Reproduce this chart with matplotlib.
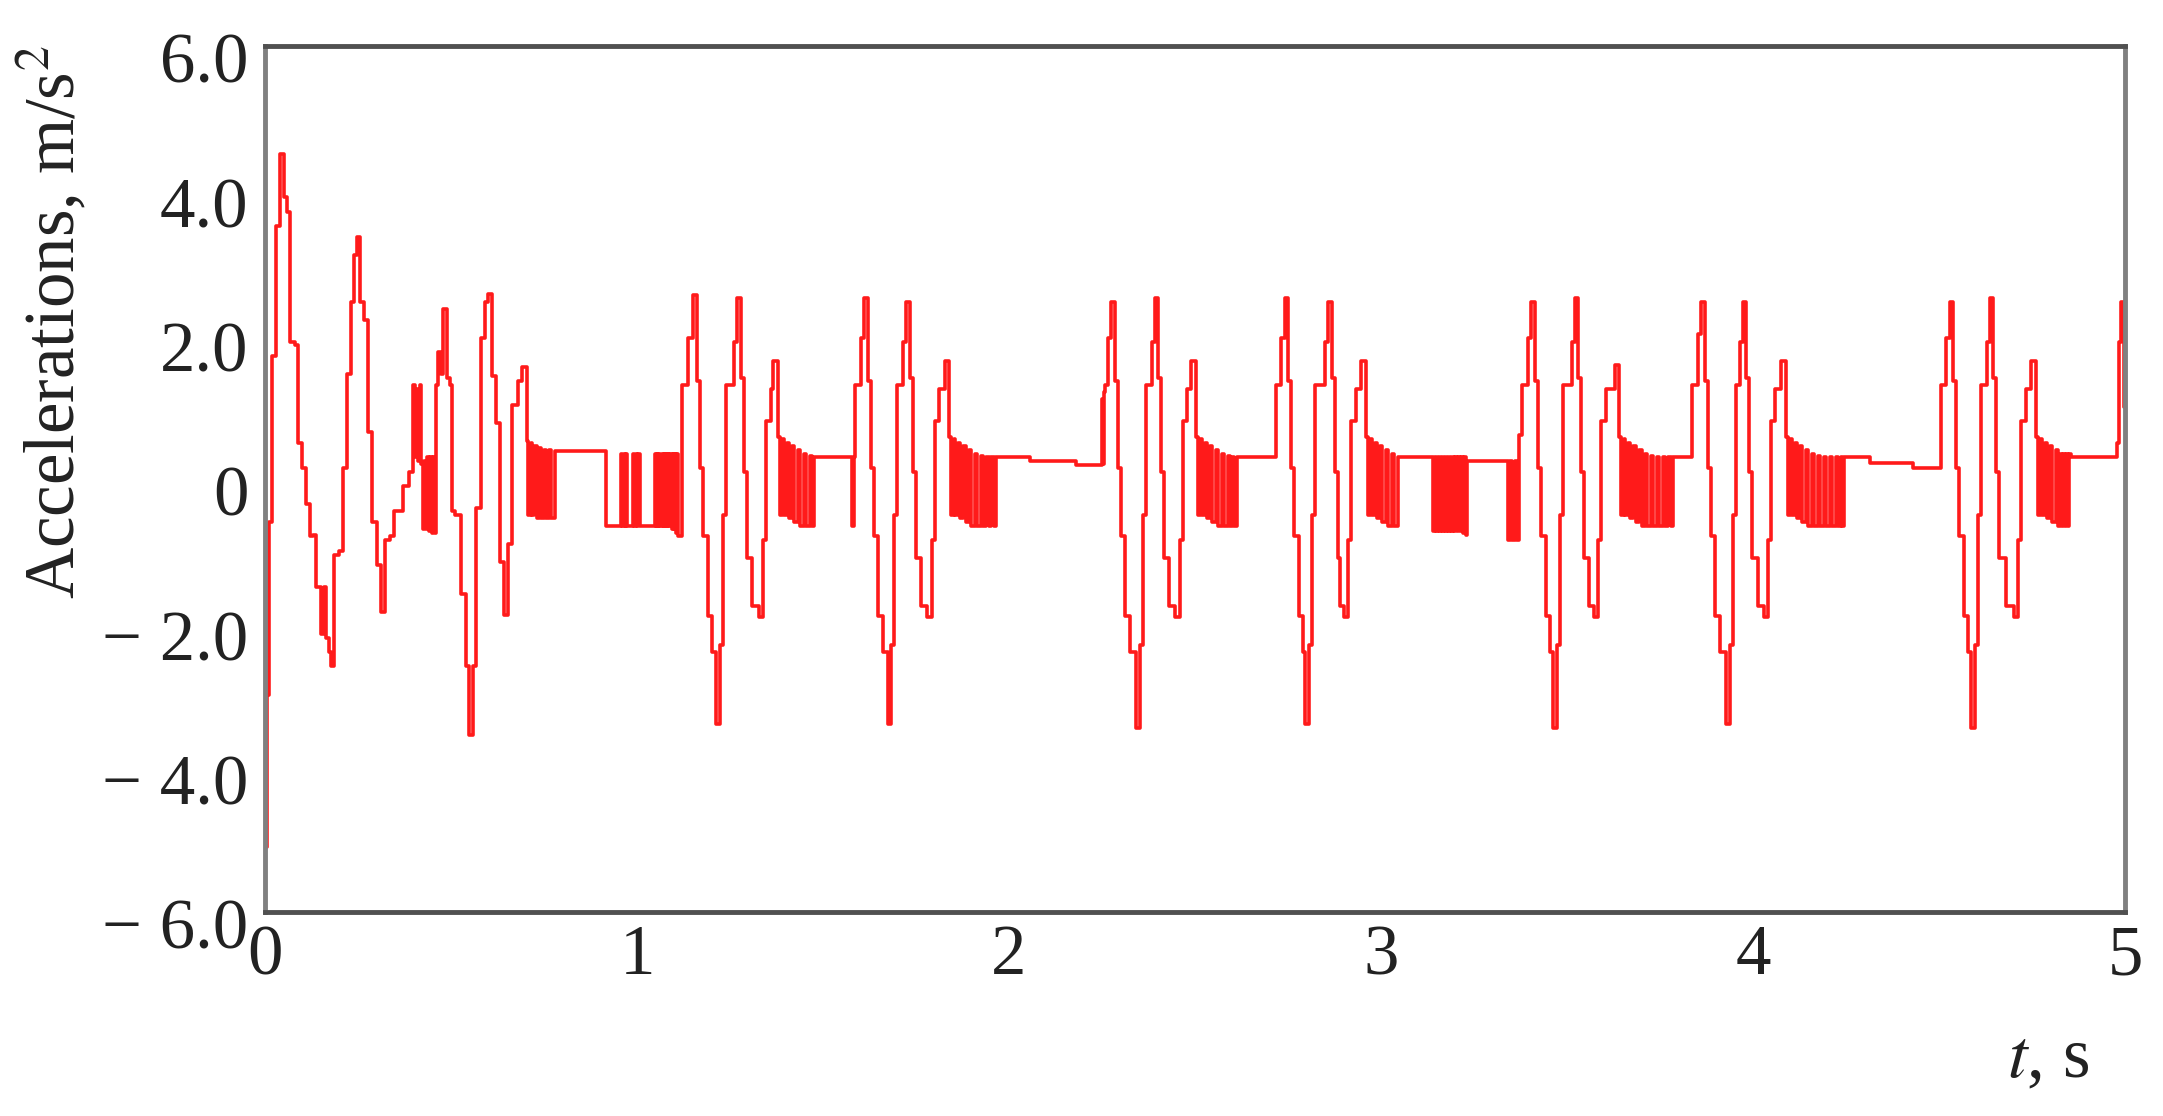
import numpy as np
import matplotlib.pyplot as plt
from matplotlib.transforms import ScaledTranslation

plt.rcParams['font.family'] = ['Liberation Serif', 'DejaVu Serif']
plt.rcParams['mathtext.fontset'] = 'stix'

# (t [s], acceleration [m/s^2]), drawn as steps
seg_start = [
    (0.000, -5.1), (0.006, -3.0), (0.012, -0.6), (0.020, 1.7), (0.030, 3.5),
    (0.040, 4.5), (0.050, 3.9), (0.058, 3.7), (0.066, 1.9), (0.080, 1.85),
    (0.088, 0.5), (0.100, 0.15), (0.110, -0.35), (0.120, -0.8), (0.130, -0.78),
    (0.138, -1.5), (0.150, -2.15), (0.160, -1.5), (0.164, -2.2), (0.172, -2.4),
    (0.178, -2.6), (0.186, -1.05), (0.200, -1.0), (0.210, 0.15), (0.220, 1.45),
    (0.230, 2.45), (0.240, 3.1), (0.248, 3.35), (0.256, 2.45), (0.266, 2.2),
    (0.276, 0.65), (0.288, -0.6), (0.300, -1.2), (0.312, -1.85), (0.322, -0.85),
    (0.336, -0.8), (0.348, -0.45), (0.360, -0.45), (0.372, -0.1), (0.386, 0.1),
    (0.399, 1.3), (0.404, 0.3), (0.408, 1.25), (0.412, 0.25), (0.416, 1.3),
    (0.420, 0.2), (0.424, -0.7), (0.428, 0.25), (0.432, -0.7), (0.436, 0.3),
    (0.440, -0.72), (0.444, 0.3), (0.448, -0.75), (0.452, 0.3), (0.456, -0.75),
    (0.460, 1.3), (0.466, 1.75), (0.474, 1.45), (0.478, 2.35), (0.490, 1.4),
    (0.498, 1.3), (0.504, -0.45), (0.512, -0.5), (0.526, -1.6), (0.540, -2.6),
    (0.548, -3.55), (0.558, -2.6), (0.568, -0.4), (0.580, 1.95), (0.592, 2.45),
    (0.600, 2.56), (0.610, 1.42), (0.622, 0.77), (0.632, -1.15), (0.642, -1.89),
    (0.654, -0.9), (0.664, 1.02), (0.680, 1.35), (0.692, 1.55), (0.704, 0.52),
    (0.708, -0.5), (0.714, 0.5), (0.718, -0.5), (0.724, 0.45), (0.730, -0.55),
    (0.736, 0.42), (0.742, -0.55), (0.750, 0.4), (0.756, -0.55), (0.764, 0.4),
    (0.770, -0.55), (0.780, 0.38),
    (0.918, -0.65), (0.958, 0.35), (0.961, -0.65), (0.964, 0.35), (0.967, -0.65),
    (0.970, 0.35), (0.973, -0.65), (0.990, 0.35), (0.993, -0.65), (0.997, 0.35),
    (1.000, -0.65), (1.004, 0.35), (1.007, -0.65),
    (1.048, 0.35), (1.051, -0.65), (1.054, 0.35), (1.057, -0.65), (1.060, 0.35),
    (1.063, -0.65), (1.066, 0.35), (1.069, -0.65), (1.072, 0.35), (1.075, -0.65),
    (1.078, 0.35), (1.081, -0.65), (1.084, 0.35), (1.087, -0.65), (1.090, 0.35),
    (1.093, -0.7), (1.096, 0.35), (1.099, -0.7), (1.102, 0.35), (1.105, -0.75),
    (1.108, 0.35), (1.111, -0.8),
]

seg_cycle1 = [
    (1.120, 1.3), (1.138, 1.95), (1.150, 2.55), (1.160, 1.35), (1.170, 0.15),
    (1.178, -0.8), (1.190, -1.9), (1.202, -2.4), (1.212, -3.4), (1.222, -2.3),
    (1.230, -0.5), (1.238, 1.3), (1.261, 1.9), (1.269, 2.5), (1.279, 1.4),
    (1.287, 0.1), (1.295, -1.1), (1.309, -1.76), (1.327, -1.91), (1.339, -0.85),
    (1.347, 0.8), (1.359, 1.25), (1.366, 1.63), (1.378, 0.58),
    (1.384, -0.5), (1.390, 0.55), (1.394, -0.5), (1.402, 0.5), (1.408, -0.55),
    (1.416, 0.45), (1.422, -0.6), (1.432, 0.4), (1.438, -0.65), (1.448, 0.35),
    (1.454, -0.65), (1.464, 0.32), (1.470, -0.65), (1.476, 0.3),
    (1.578, -0.66), (1.582, 0.3),
    (1.587, 1.3), (1.602, 1.95), (1.611, 2.5), (1.621, 1.35), (1.629, 0.15),
    (1.637, -0.8), (1.649, -1.9), (1.661, -2.4), (1.674, -3.4), (1.684, -2.3),
    (1.692, -0.5), (1.700, 1.3), (1.715, 1.9), (1.723, 2.45), (1.733, 1.4),
    (1.741, 0.1), (1.749, -1.1), (1.763, -1.76), (1.780, -1.91), (1.792, -0.85),
    (1.800, 0.8), (1.812, 1.25), (1.827, 1.63), (1.839, 0.58),
    (1.845, -0.5), (1.851, 0.55), (1.855, -0.5), (1.863, 0.5), (1.869, -0.55),
    (1.877, 0.45), (1.883, -0.6), (1.893, 0.4), (1.899, -0.65), (1.909, 0.35),
    (1.915, -0.65), (1.925, 0.32), (1.931, -0.65), (1.937, 0.3), (1.945, -0.66),
    (1.952, 0.3), (1.960, -0.66), (1.966, 0.3),
    (2.056, 0.24), (2.180, 0.19),
]

seg_cycle2 = [
    (2.250, 1.1), (2.253, 0.2), (2.256, 1.2),
    (2.259, 1.3), (2.265, 1.95), (2.274, 2.45), (2.284, 1.35), (2.292, 0.15),
    (2.300, -0.8), (2.312, -1.9), (2.324, -2.4), (2.342, -3.45), (2.352, -2.3),
    (2.360, -0.5), (2.368, 1.3), (2.383, 1.9), (2.391, 2.5), (2.401, 1.4),
    (2.409, 0.1), (2.417, -1.1), (2.431, -1.76), (2.447, -1.91), (2.459, -0.85),
    (2.467, 0.8), (2.479, 1.25), (2.490, 1.63), (2.502, 0.58),
    (2.508, -0.5), (2.514, 0.55), (2.518, -0.5), (2.526, 0.5), (2.532, -0.55),
    (2.540, 0.45), (2.546, -0.6), (2.556, 0.4), (2.562, -0.65), (2.572, 0.35),
    (2.578, -0.65), (2.588, 0.32), (2.594, -0.65), (2.600, 0.3), (2.606, -0.66),
    (2.612, 0.3),
    (2.717, 1.3), (2.732, 1.95), (2.741, 2.5), (2.751, 1.35), (2.759, 0.15),
    (2.767, -0.8), (2.779, -1.9), (2.791, -2.4), (2.796, -3.4), (2.806, -2.3),
    (2.814, -0.5), (2.822, 1.3), (2.849, 1.9), (2.857, 2.45), (2.867, 1.4),
    (2.875, 0.1), (2.883, -1.1), (2.890, -1.76), (2.900, -1.91), (2.912, -0.85),
    (2.920, 0.8), (2.932, 1.25), (2.947, 1.63), (2.959, 0.58),
    (2.965, -0.5), (2.971, 0.55), (2.975, -0.5), (2.983, 0.5), (2.989, -0.55),
    (2.997, 0.45), (3.003, -0.6), (3.013, 0.4), (3.019, -0.65), (3.029, 0.35),
    (3.035, -0.65), (3.045, 0.3),
    (3.140, -0.72), (3.144, 0.3), (3.148, -0.72), (3.152, 0.3), (3.156, -0.72),
    (3.160, 0.3), (3.164, -0.72), (3.168, 0.3), (3.172, -0.72), (3.176, 0.3),
    (3.180, -0.72), (3.184, 0.3), (3.188, -0.72), (3.192, 0.3), (3.196, -0.72),
    (3.200, 0.3), (3.204, -0.72), (3.208, 0.3), (3.212, -0.72), (3.216, 0.3),
    (3.220, -0.75), (3.224, 0.3), (3.228, -0.78), (3.232, 0.25),
    (3.340, -0.85), (3.346, 0.25), (3.352, -0.85), (3.360, 0.25), (3.366, -0.85),
    (3.372, 0.6),
]

seg_cycle3 = [
    (3.380, 1.3), (3.395, 1.95), (3.404, 2.45), (3.414, 1.35), (3.422, 0.15),
    (3.430, -0.8), (3.442, -1.9), (3.454, -2.4), (3.462, -3.45), (3.472, -2.3),
    (3.480, -0.5), (3.488, 1.3), (3.512, 1.9), (3.520, 2.5), (3.530, 1.4),
    (3.538, 0.1), (3.546, -1.1), (3.560, -1.76), (3.572, -1.91), (3.584, -0.85),
    (3.592, 0.8), (3.604, 1.25), (3.628, 1.58), (3.640, 0.58),
    (3.646, -0.5), (3.652, 0.55), (3.656, -0.5), (3.664, 0.5), (3.670, -0.55),
    (3.678, 0.45), (3.684, -0.6), (3.694, 0.4), (3.700, -0.65), (3.710, 0.35),
    (3.716, -0.65), (3.726, 0.32), (3.732, -0.65), (3.742, 0.3), (3.748, -0.66),
    (3.758, 0.3), (3.764, -0.66), (3.772, 0.3), (3.780, -0.66), (3.786, 0.3),
    (3.836, 1.3), (3.851, 2.0), (3.860, 2.45), (3.870, 1.35), (3.878, 0.15),
    (3.886, -0.8), (3.898, -1.9), (3.910, -2.4), (3.928, -3.4), (3.938, -2.3),
    (3.946, -0.5), (3.954, 1.3), (3.964, 1.9), (3.972, 2.45), (3.982, 1.4),
    (3.990, 0.1), (3.998, -1.1), (4.012, -1.76), (4.028, -1.91), (4.040, -0.85),
    (4.048, 0.8), (4.060, 1.25), (4.076, 1.63), (4.088, 0.58),
    (4.094, -0.5), (4.100, 0.55), (4.104, -0.5), (4.112, 0.5), (4.118, -0.55),
    (4.126, 0.45), (4.132, -0.6), (4.142, 0.4), (4.148, -0.65), (4.158, 0.35),
    (4.164, -0.65), (4.174, 0.32), (4.180, -0.65), (4.190, 0.3), (4.196, -0.66),
    (4.206, 0.3), (4.212, -0.66), (4.222, 0.3), (4.228, -0.66), (4.236, 0.3),
    (4.240, -0.66), (4.244, 0.3),
    (4.315, 0.22), (4.430, 0.15),
]

seg_cycle4 = [
    (4.504, 1.3), (4.519, 1.95), (4.528, 2.45), (4.538, 1.35), (4.546, 0.15),
    (4.554, -0.8), (4.566, -1.9), (4.578, -2.4), (4.586, -3.45), (4.596, -2.3),
    (4.604, -0.5), (4.612, 1.3), (4.628, 1.9), (4.636, 2.5), (4.646, 1.4),
    (4.654, 0.1), (4.662, -1.1), (4.680, -1.76), (4.701, -1.91), (4.713, -0.85),
    (4.721, 0.8), (4.733, 1.25), (4.748, 1.63), (4.760, 0.58),
    (4.766, -0.5), (4.772, 0.55), (4.776, -0.5), (4.784, 0.5), (4.790, -0.55),
    (4.798, 0.45), (4.804, -0.6), (4.814, 0.4), (4.820, -0.65), (4.826, 0.35),
    (4.830, -0.65), (4.834, 0.35), (4.838, -0.65), (4.842, 0.35), (4.846, -0.65),
    (4.850, 0.35), (4.854, 0.3),
    (4.978, 0.5), (4.984, 1.9), (4.990, 2.45), (4.996, 1.0), (5.000, 2.45),
]

x_ticks = [0, 1, 2, 3, 4, 5]
y_ticks = [-6, -4, -2, 0, 2, 4, 6]
y_tick_labels = ['\u2212 6.0', '\u2212 4.0', '\u2212 2.0', '0', '2.0', '4.0', '6.0']

data = np.array(seg_start + seg_cycle1 + seg_cycle2 + seg_cycle3 + seg_cycle4)
t = data[:, 0]
acc = data[:, 1]

fig = plt.figure(figsize=(21.63, 11.16), dpi=100)
ax = fig.add_axes([0.1225, 0.183, 0.860, 0.776])

ax.plot(t, acc, drawstyle='steps-post', color='#ff1a1a', lw=2.6)

ax.set_xlim(0, 5)
ax.set_ylim(-6, 6)
ax.set_xticks(x_ticks)
ax.set_xticklabels([str(v) for v in x_ticks])
ax.set_yticks(y_ticks)
ax.set_yticklabels(y_tick_labels)
ax.tick_params(axis='both', length=0, labelsize=51, colors='#222222')
ax.tick_params(axis='x', pad=9)
ax.tick_params(axis='y', pad=12)

shift = ScaledTranslation(0, -0.12, fig.dpi_scale_trans)
for lab in ax.get_yticklabels():
    lab.set_transform(lab.get_transform() + shift)

for side in ['left', 'right']:
    ax.spines[side].set_color('#808080')
    ax.spines[side].set_linewidth(3.5)
for side in ['top', 'bottom']:
    ax.spines[side].set_color('#505050')
    ax.spines[side].set_linewidth(3.5)

fig.text(0.0245, 0.7115, 'Accelerations, m/s$^2$', rotation=90,
         ha='center', va='center', fontsize=51, color='#222222')
fig.text(0.947, 0.05, '$t$, s', ha='center', va='center',
         fontsize=51, color='#222222')

fig.savefig('out.png', dpi=100)
